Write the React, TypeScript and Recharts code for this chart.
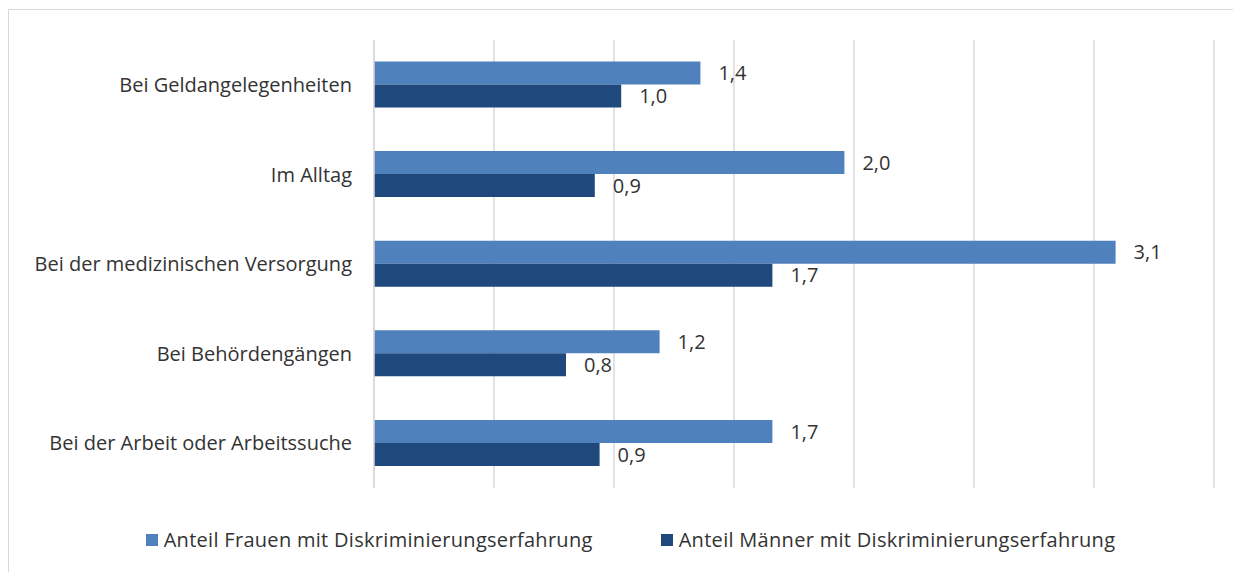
import { BarChart, Bar, XAxis, YAxis, CartesianGrid, Legend, LabelList } from 'recharts';

const categories = [
  'Bei Geldangelegenheiten',
  'Im Alltag',
  'Bei der medizinischen Versorgung',
  'Bei Behördengängen',
  'Bei der Arbeit oder Arbeitssuche',
];
const frauen = [1.36, 1.96, 3.09, 1.19, 1.66];
const maenner = [1.03, 0.92, 1.66, 0.8, 0.94];
const xTicks = [0, 0.5, 1, 1.5, 2, 2.5, 3, 3.5];

const FRAUEN_NAME = 'Anteil Frauen mit Diskriminierungserfahrung';
const MAENNER_NAME = 'Anteil Männer mit Diskriminierungserfahrung';
const FRAUEN_COLOR = '#4F81BD';
const MAENNER_COLOR = '#1F497D';
const FONT = '"Open Sans", sans-serif';
const TEXT = '#333333';

const data = categories.map((name, i) => ({ name, frauen: frauen[i], maenner: maenner[i] }));

const fmt = (v: any) => Number(v).toFixed(1).replace('.', ',');

function LegendContent() {
  const items = [
    { name: FRAUEN_NAME, color: FRAUEN_COLOR },
    { name: MAENNER_NAME, color: MAENNER_COLOR },
  ];
  return (
    <div style={{ display: 'flex', justifyContent: 'center', gap: 68, fontFamily: FONT, fontSize: 20, letterSpacing: 0.3, color: TEXT }}>
      {items.map((it) => (
        <div key={it.name} style={{ display: 'flex', alignItems: 'center' }}>
          <span style={{ display: 'inline-block', width: 12, height: 12, background: it.color, marginRight: 6 }} />
          <span>{it.name}</span>
        </div>
      ))}
    </div>
  );
}

export default function App() {
  return (
    <div style={{ position: 'absolute', left: 0, top: 0, width: 1233, height: 572, overflow: 'hidden', background: '#fff' }}>
      <div style={{ position: 'absolute', left: 8, top: 9, width: 1300, height: 700, border: '1.5px solid #d9d9d9' }} />
      <div style={{ position: 'absolute', left: 0, top: 0 }}>
        <BarChart
          width={1233}
          height={572}
          data={data}
          layout="vertical"
          margin={{ top: 40, right: 19, bottom: 84, left: 0 }}
          barCategoryGap="24%"
          barGap={0}
        >
          <CartesianGrid horizontal={false} stroke="#d9d9d9" strokeWidth={1.5} />
          <XAxis
            type="number"
            domain={[0, 3.5]}
            ticks={xTicks}
            tick={() => <g />}
            axisLine={false}
            tickLine={false}
            height={0}
          />
          <YAxis
            type="category"
            dataKey="name"
            width={374}
            axisLine={{ stroke: '#d9d9d9', strokeWidth: 1.5 }}
            tickLine={false}
            tickSize={0}
            tickMargin={22}
            tick={{ fill: TEXT, fontSize: 20, fontFamily: FONT }}
          />
          <Legend verticalAlign="middle" content={<LegendContent />} wrapperStyle={{ top: 526, left: 14, width: 1233 }} />
          <Bar dataKey="frauen" name={FRAUEN_NAME} fill={FRAUEN_COLOR} isAnimationActive={false}>
            <LabelList dataKey="frauen" position="right" offset={18} formatter={fmt} style={{ fill: TEXT, fontSize: 20, fontFamily: FONT }} />
          </Bar>
          <Bar dataKey="maenner" name={MAENNER_NAME} fill={MAENNER_COLOR} isAnimationActive={false}>
            <LabelList dataKey="maenner" position="right" offset={18} formatter={fmt} style={{ fill: TEXT, fontSize: 20, fontFamily: FONT }} />
          </Bar>
        </BarChart>
      </div>
    </div>
  );
}
